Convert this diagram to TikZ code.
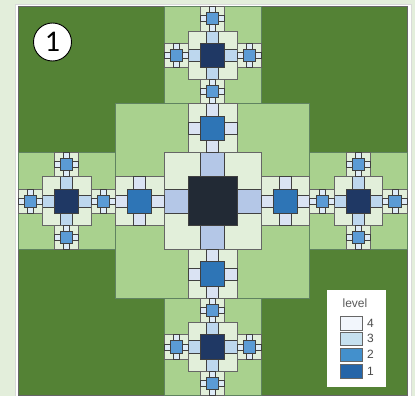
\documentclass[tikz,border=0pt]{standalone}
\usepackage{fontspec}
\setmainfont{Liberation Sans}
\newfontfamily\carl{Carlito}
\definecolor{bgout}{HTML}{E3EEDB}
\definecolor{dgreen}{HTML}{548235}
\definecolor{lgreen}{HTML}{A9D18E}
\definecolor{paleg}{HTML}{E2EFDA}
\definecolor{coreO}{HTML}{222A35}
\definecolor{lav}{HTML}{B4C7E7}
\definecolor{blueA}{HTML}{2E75B6}
\definecolor{connA}{HTML}{DAE3F3}
\definecolor{navy}{HTML}{1F3864}
\definecolor{lblue}{HTML}{BDD7EE}
\definecolor{blueB}{HTML}{5B9BD5}
\definecolor{connB}{HTML}{DEEBF7}
\definecolor{lg4}{HTML}{F2F6FC}
\definecolor{lg3}{HTML}{C6E0EF}
\definecolor{lg2}{HTML}{4390CC}
\definecolor{lg1}{HTML}{2565A8}
\newcommand{\fsq}[4]{\path[#1] ({#2-(#4)/2},{#3-(#4)/2}) rectangle ({#2+(#4)/2},{#3+(#4)/2});}
\begin{document}
\begin{tikzpicture}[x=1pt,y=-1pt,
  gbox/.style={fill=#1,draw=black!45!green!25!gray,line width=0.6pt},
  pbox/.style={fill=paleg,draw=black!60,line width=0.6pt},
  bbox/.style={fill=#1,draw=black!75,line width=0.6pt},
  legbox/.style={fill=#1,draw=black!60,line width=0.8pt},
  leglab/.style={text=black!70,font=\fontsize{12}{12}\selectfont,inner sep=0pt,anchor=west}]
\useasboundingbox (0,0) rectangle (415,396);
\fill[bgout] (0,0) rectangle (415,396);
\path[fill=white,draw=black!15] (15,4) rectangle (411,398);
\def\T{48.625}
\def\CX{212.5}
\def\CY{201}
% main dark green
\fsq{fill=dgreen,draw=black!60,line width=0.8pt}{\CX}{\CY}{8*\T}
% green squares
\fsq{gbox=lgreen}{\CX}{\CY}{4*\T}
\foreach \dx/\dy in {0/-1,0/1,-1/0,1/0}{
  \fsq{gbox=lgreen}{\CX+3*\T*(\dx)}{\CY+3*\T*(\dy)}{2*\T}
}
% central node
\fsq{pbox}{\CX}{\CY}{2*\T}
\foreach \dx/\dy in {0/-1,0/1,-1/0,1/0}{
  \fsq{bbox=lav}{\CX+0.75*\T*(\dx)}{\CY+0.75*\T*(\dy)}{\T/2}
  \pgfmathsetmacro\px{\CX+1.5*\T*(\dx)}
  \pgfmathsetmacro\py{\CY+1.5*\T*(\dy)}
  \fsq{pbox}{\px}{\py}{\T}
  \foreach \ex/\ey in {0/-1,0/1,-1/0,1/0}{
    \fsq{bbox=connA}{\px+0.375*\T*(\ex)}{\py+0.375*\T*(\ey)}{\T/4}
  }
  \fsq{bbox=blueA}{\px}{\py}{\T/2}
}
\fsq{bbox=coreO}{\CX}{\CY}{\T}
% arm nodes
\foreach \dx/\dy in {0/-1,0/1,-1/0,1/0}{
  \pgfmathsetmacro\ax{\CX+3*\T*(\dx)}
  \pgfmathsetmacro\ay{\CY+3*\T*(\dy)}
  \fsq{pbox}{\ax}{\ay}{\T}
  \foreach \ex/\ey in {0/-1,0/1,-1/0,1/0}{
    \fsq{bbox=lblue}{\ax+0.375*\T*(\ex)}{\ay+0.375*\T*(\ey)}{\T/4}
    \pgfmathsetmacro\qx{\ax+0.75*\T*(\ex)}
    \pgfmathsetmacro\qy{\ay+0.75*\T*(\ey)}
    \fsq{pbox}{\qx}{\qy}{\T/2}
    \foreach \fx/\fy in {0/-1,0/1,-1/0,1/0}{
      \fsq{bbox=connB}{\qx+0.1875*\T*(\fx)}{\qy+0.1875*\T*(\fy)}{\T/8}
    }
    \fsq{bbox=blueB}{\qx}{\qy}{\T/4}
  }
  \fsq{bbox=navy}{\ax}{\ay}{\T/2}
}
% number badge
\node[circle,fill=white,draw=black,line width=0.9pt,minimum size=38pt,inner sep=0pt,
  font=\carl\fontsize{30}{30}\selectfont] (badge) at (52.5,42) {1};
% legend
\path[fill=white] (327,290) rectangle (386,387);
\node[text=black!65,font=\fontsize{12}{12}\selectfont,inner sep=0pt] (legtitle) at (355,303) {level};
\path[legbox=lg4] (340,316) rectangle (362,330);
\path[legbox=lg3] (340,332) rectangle (362,345);
\path[legbox=lg2] (340,348) rectangle (362,361);
\path[legbox=lg1] (340,364) rectangle (362,378);
\node[leglab] (l4) at (367,323) {4};
\node[leglab] (l3) at (367,338.5) {3};
\node[leglab] (l2) at (367,354.5) {2};
\node[leglab] (l1) at (367,371) {1};
\end{tikzpicture}
\end{document}
